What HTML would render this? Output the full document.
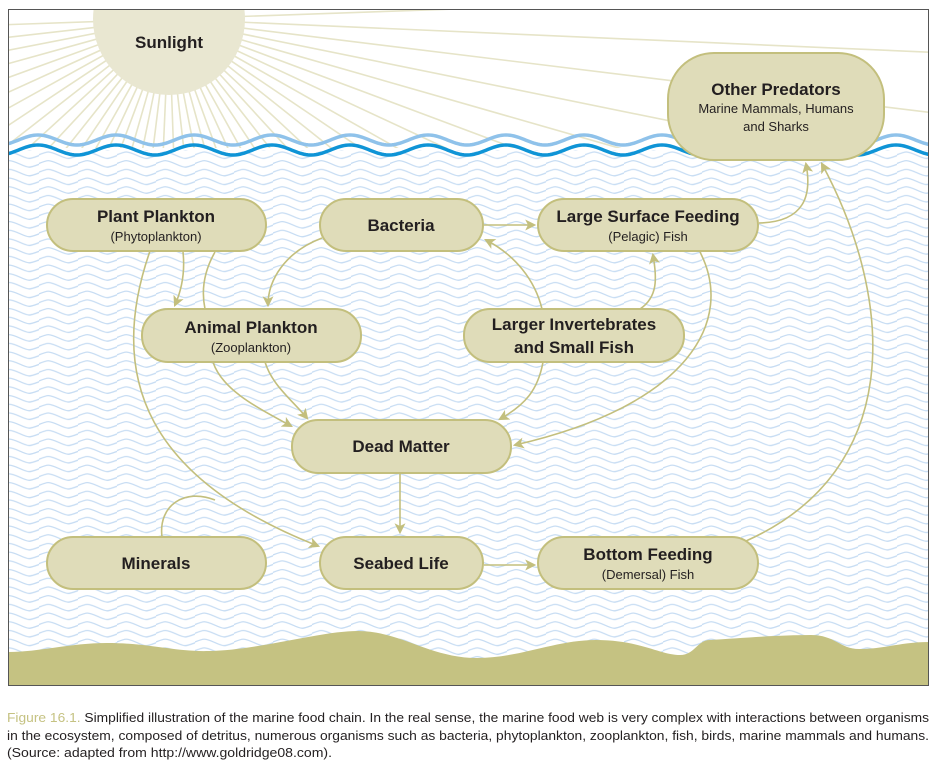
<!DOCTYPE html>
<html><head><meta charset="utf-8"><style>
html,body{margin:0;padding:0;background:#fff;width:934px;height:766px;overflow:hidden}
svg{position:absolute;left:0;top:0}
</style></head><body>
<svg width="934" height="766" viewBox="0 0 934 766" font-family="Liberation Sans, sans-serif">
<defs>
<pattern id="wv" x="0" y="3" width="39" height="8.7" patternUnits="userSpaceOnUse">
<path d="M-1,4.3 C9,0 10,0 19.5,4.3 S29,8.6 40,4.3" fill="none" stroke="#c6dcf3" stroke-width="1.3"/>
</pattern>
<marker id="ah" viewBox="0 0 10 10" refX="8" refY="5" markerWidth="11" markerHeight="11" markerUnits="userSpaceOnUse" orient="auto">
<path d="M0,0 L10,5 L0,10 L2.5,5 Z" fill="#c3bf7d"/></marker>
<clipPath id="fr"><rect x="8" y="9" width="921" height="677"/></clipPath>
<clipPath id="sky"><rect x="8" y="9" width="921" height="140"/></clipPath>
</defs>
<g clip-path="url(#fr)">
<rect x="8" y="9" width="921" height="677" fill="#fff"/>
<g clip-path="url(#sky)"><g stroke="#e6e4c8" stroke-width="1.6" id="rays"></g></g>
<circle cx="169" cy="19" r="76" fill="#e9e7d1"/>
<rect x="8" y="148" width="921" height="510" fill="#fff"/>
<rect x="8" y="150" width="921" height="508" fill="url(#wv)"/>
<path id="sw1" d="" fill="none" stroke="#8fc2ea" stroke-width="3.5"/>
<path id="sw2" d="" fill="none" stroke="#0f94d6" stroke-width="3.5"/>
<path d="M8,652 C40,652 70,643 107,643 C150,643 175,652 209,651 C260,650 320,631 358,631 C400,631 430,658 477,658 C520,658 555,640 596,640 C640,640 660,655 680,655 C695,655 697,640 710,640 C740,638 780,635 811,635 C835,635 840,649 859,649 C885,649 900,642 930,642 L930,690 L8,690 Z" fill="#c5c282"/>
</g>
<rect x="8.5" y="9.5" width="920" height="676" fill="none" stroke="#555" stroke-width="1"/>

<g fill="none" stroke="#c3bf7d" stroke-width="1.6">
<path d="M183,252 Q186,280 175,305" marker-end="url(#ah)"/>
<path d="M205,309 Q199,280 215,252"/>
<path d="M150,251 C105,380 150,480 318,546" marker-end="url(#ah)"/>
<path d="M162,537 C158,505 185,488 215,500"/>
<path d="M322,238 C285,252 268,280 268,305" marker-end="url(#ah)"/>
<path d="M484,225 L534,225" marker-end="url(#ah)"/>
<path d="M542,309 C535,280 515,255 486,240" marker-end="url(#ah)"/>
<path d="M640,309 C658,297 657,278 653,255" marker-end="url(#ah)"/>
<path d="M759,223 C805,222 812,195 806,164" marker-end="url(#ah)"/>
<path d="M700,252 C735,320 690,405 515,445" marker-end="url(#ah)"/>
<path d="M213,362 C222,390 258,408 291,426" marker-end="url(#ah)"/>
<path d="M265,362 C272,385 292,400 307,418" marker-end="url(#ah)"/>
<path d="M543,362 C538,390 525,405 500,419" marker-end="url(#ah)"/>
<path d="M400,474 L400,532" marker-end="url(#ah)"/>
<path d="M484,565 L534,565" marker-end="url(#ah)"/>
<path d="M746,541 C905,470 895,300 822,164" marker-end="url(#ah)"/>
</g>

<g fill="#dfdcb9" stroke="#c3bf7d" stroke-width="2">
<rect x="47" y="199" width="219" height="52" rx="26"/>
<rect x="320" y="199" width="163" height="52" rx="26"/>
<rect x="538" y="199" width="220" height="52" rx="26"/>
<rect x="668" y="53" width="216" height="107" rx="46"/>
<rect x="142" y="309" width="219" height="53" rx="26"/>
<rect x="464" y="309" width="220" height="53" rx="26"/>
<rect x="292" y="420" width="219" height="53" rx="26"/>
<rect x="47" y="537" width="219" height="52" rx="26"/>
<rect x="320" y="537" width="163" height="52" rx="26"/>
<rect x="538" y="537" width="220" height="52" rx="26"/>
</g>
<g fill="#231f20" text-anchor="middle" font-size="17" font-weight="bold">
<text x="169" y="48">Sunlight</text>
<text x="156" y="222">Plant Plankton</text>
<text x="401" y="231">Bacteria</text>
<text x="648" y="222">Large Surface Feeding</text>
<text x="776" y="95">Other Predators</text>
<text x="251" y="333">Animal Plankton</text>
<text x="574" y="330">Larger Invertebrates</text>
<text x="574" y="353">and Small Fish</text>
<text x="401" y="452">Dead Matter</text>
<text x="156" y="569">Minerals</text>
<text x="401" y="569">Seabed Life</text>
<text x="648" y="560">Bottom Feeding</text>
</g>
<g fill="#231f20" text-anchor="middle" font-size="13">
<text x="156" y="241">(Phytoplankton)</text>
<text x="648" y="241">(Pelagic) Fish</text>
<text x="776" y="113">Marine Mammals, Humans</text>
<text x="776" y="131">and Sharks</text>
<text x="251" y="352">(Zooplankton)</text>
<text x="648" y="579">(Demersal) Fish</text>
</g>
<g fill="#231f20" font-size="13">
<text x="7" y="722" textLength="922" lengthAdjust="spacingAndGlyphs"><tspan fill="#c5c282">Figure 16.1.</tspan> Simplified illustration of the marine food chain. In the real sense, the marine food web is very complex with interactions between organisms</text>
<text x="7" y="740" textLength="922" lengthAdjust="spacingAndGlyphs">in the ecosystem, composed of detritus, numerous organisms such as bacteria, phytoplankton, zooplankton, fish, birds, marine mammals and humans.</text>
<text x="7" y="757" textLength="325" lengthAdjust="spacingAndGlyphs">(Source: adapted from http://www.goldridge08.com).</text>
</g>
</svg>
<script>
(function(){
var ns="http://www.w3.org/2000/svg",g=document.getElementById("rays");
for(var a=-2;a<=182;a+=4.5){var r=a*Math.PI/180,L=1200;
var l=document.createElementNS(ns,"line");
l.setAttribute("x1",169);l.setAttribute("y1",19);
l.setAttribute("x2",169+L*Math.cos(r));l.setAttribute("y2",19+L*Math.sin(r));g.appendChild(l);}
function s(y,ph){var d="",P=78,A=5;for(var x=0;x<=940;x+=2){var yy=y-A*Math.cos((x-ph)/P*2*Math.PI);d+=(x?" L":"M")+x+","+yy.toFixed(2);}return d;}
document.getElementById("sw1").setAttribute("d",s(140,38));
document.getElementById("sw2").setAttribute("d",s(150,38));
})();
</script>
</body></html>
